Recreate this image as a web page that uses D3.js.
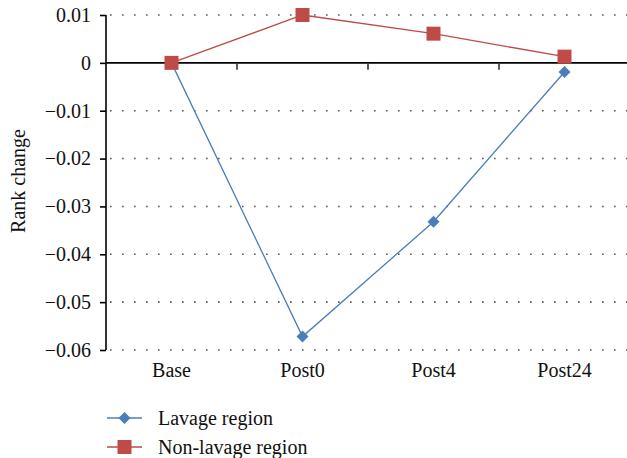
<!DOCTYPE html>
<html><head><meta charset="utf-8">
<script src="https://cdn.jsdelivr.net/npm/d3@7"></script>
<style>body{margin:0;background:#fff}</style>
</head><body>
<svg id="c" width="627" height="458"></svg>
<script>
const categories = ["Base","Post0","Post4","Post24"];
const lavage = [0, -0.0572, -0.0332, -0.0019];
const nonLavage = [0, 0.0100, 0.0061, 0.0013];
const yTicks = [0.01, 0, -0.01, -0.02, -0.03, -0.04, -0.05, -0.06];
const yTickLabels = ["0.01","0","\u22120.01","\u22120.02","\u22120.03","\u22120.04","\u22120.05","\u22120.06"];
const seriesNames = ["Lavage region","Non-lavage region"];
const colors = ["#4a7ebb","#be4b48"];
const FONT = "'Liberation Serif', 'DejaVu Serif', serif";

const svg = d3.select("#c");
const x = d3.scaleBand().domain(categories).range([106, 630]);
const y = d3.scaleLinear().domain([-0.06, 0.01]).range([350, 15]);

// gridlines
svg.append("g").selectAll("line").data(yTicks.filter(d => d !== 0)).join("line")
  .attr("x1", 110).attr("x2", 627).attr("y1", d => y(d)).attr("y2", d => y(d))
  .attr("stroke", "#555").attr("stroke-width", 1.6).attr("stroke-dasharray", "1.6,10.4");

// y axis
const yAxis = d3.axisLeft(y).tickValues(yTicks).tickFormat((d, i) => yTickLabels[i]).tickSize(6).tickPadding(9);
const gy = svg.append("g").attr("transform", "translate(106,0)").call(yAxis)
  .attr("font-family", null).attr("font-size", null);
gy.select(".domain").attr("stroke", "#000").attr("stroke-width", 1.6).attr("d", `M0,${y(0.01)}V${y(-0.06)}`);
gy.selectAll(".tick line").attr("stroke", "#000").attr("stroke-width", 1.6);
gy.selectAll(".tick text").style("font-family", FONT).style("font-size", "20px").attr("fill", "#111");

// x axis line at zero
svg.append("line").attr("x1", 106).attr("x2", 627).attr("y1", y(0)).attr("y2", y(0))
  .attr("stroke", "#000").attr("stroke-width", 1.6);
svg.append("g").selectAll("line").data(categories.slice(1)).join("line")
  .attr("x1", d => x(d)).attr("x2", d => x(d)).attr("y1", y(0)).attr("y2", y(0) + 7)
  .attr("stroke", "#333").attr("stroke-width", 1.6);

// category labels
svg.append("g").selectAll("text").data(categories).join("text")
  .attr("x", d => x(d) + x.bandwidth() / 2).attr("y", 377)
  .attr("text-anchor", "middle").style("font-family", FONT).style("font-size", "20px")
  .attr("fill", "#111").text(d => d);

// y title
svg.append("text").attr("transform", "translate(25,181) rotate(-90)")
  .attr("text-anchor", "middle").style("font-family", FONT).style("font-size", "20px")
  .attr("fill", "#111").text("Rank change");

const cx = d => x(d) + x.bandwidth() / 2;
const line = d3.line().x((d, i) => cx(categories[i])).y(d => y(d));

svg.append("path").datum(lavage).attr("d", line).attr("fill", "none").attr("stroke", colors[0]).attr("stroke-width", 1.3);
svg.append("path").datum(nonLavage).attr("d", line).attr("fill", "none").attr("stroke", colors[1]).attr("stroke-width", 1.3);

const diamond = d3.symbol().type(d3.symbolSquare).size(72);
svg.append("g").selectAll("path").data(lavage).join("path")
  .attr("d", diamond()).attr("fill", colors[0])
  .attr("transform", (d, i) => `translate(${cx(categories[i])},${y(d)}) rotate(45)`);
svg.append("g").selectAll("rect").data(nonLavage).join("rect")
  .attr("x", (d, i) => cx(categories[i]) - 7).attr("y", d => y(d) - 7)
  .attr("width", 14).attr("height", 14).attr("fill", colors[1]);

// legend
const ly = [418, 447];
seriesNames.forEach((name, i) => {
  const g = svg.append("g");
  g.append("line").attr("x1", 107).attr("x2", 142).attr("y1", ly[i]).attr("y2", ly[i])
    .attr("stroke", colors[i]).attr("stroke-width", 1.3);
  if (i === 0) {
    g.append("path").attr("d", diamond()).attr("fill", colors[0])
      .attr("transform", `translate(124.5,${ly[i]}) rotate(45)`);
  } else {
    g.append("rect").attr("x", 117.5).attr("y", ly[i] - 7).attr("width", 14).attr("height", 14).attr("fill", colors[1]);
  }
  g.append("text").attr("x", 158).attr("y", ly[i] + 6.5)
    .style("font-family", FONT).style("font-size", "20px").attr("fill", "#111").text(name);
});
</script>
</body></html>
